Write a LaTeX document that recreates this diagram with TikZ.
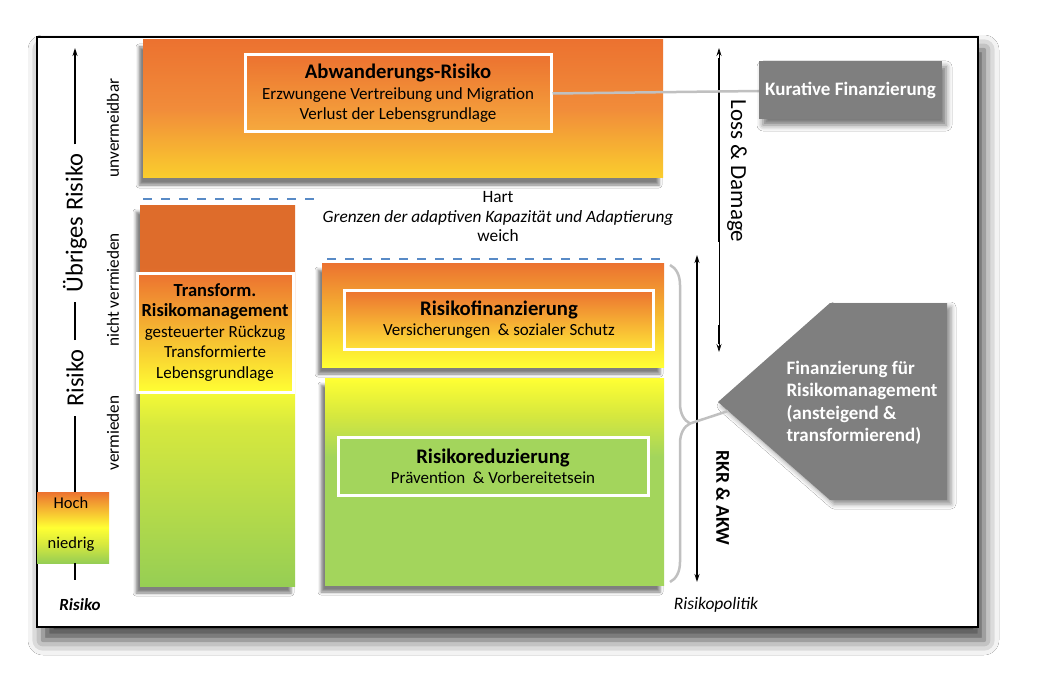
\documentclass[tikz,border=0pt]{standalone}
\usepackage{fontspec}
\setmainfont{Carlito}
\usetikzlibrary{positioning,shadows,shadows.blur,decorations.pathreplacing,arrows.meta}

\definecolor{orgtop}{RGB}{236,114,48}
\definecolor{orgmid}{RGB}{241,140,58}
\definecolor{orgdark}{RGB}{222,108,43}
\definecolor{orglight}{RGB}{246,170,62}
\definecolor{gold}{RGB}{250,206,45}
\definecolor{yel}{RGB}{255,255,51}
\definecolor{yelsoft}{RGB}{254,225,55}
\definecolor{yelgrn}{RGB}{214,232,62}
\definecolor{grn}{RGB}{163,213,92}
\definecolor{grnbot}{RGB}{150,206,84}
\definecolor{boxgrey}{RGB}{127,127,127}
\definecolor{linegrey}{RGB}{192,192,192}
\definecolor{dashblue}{RGB}{88,138,198}

\pgfdeclareverticalshading{transshade}{100bp}{color(0bp)=(grnbot);color(25bp)=(grnbot);color(46bp)=(yelgrn);color(52bp)=(yel);color(63bp)=(orgtop);color(67bp)=(orgdark);color(75bp)=(orgdark);color(100bp)=(orgdark)}
\pgfdeclareverticalshading{redshade}{100bp}{color(0bp)=(grn);color(25bp)=(grn);color(56bp)=(grn);color(66bp)=(yelgrn);color(75bp)=(yel);color(100bp)=(yel)}
\pgfdeclareverticalshading{legendshade}{100bp}{color(0bp)=(grnbot);color(25bp)=(grnbot);color(38bp)=(yelgrn);color(50bp)=(yel);color(75bp)=(orgtop);color(100bp)=(orgtop)}

\newcommand{\boxtitle}[1]{{\fontsize{20.7}{22}\selectfont\bfseries #1}}
\newcommand{\smalltitle}[1]{{\fontsize{18.5}{21}\selectfont\bfseries #1}}

\tikzset{
    block/.style={blur shadow={shadow xshift=-4pt, shadow yshift=-7pt, shadow blur radius=3pt, shadow opacity=50}},
    inbox/.style={draw=white, line width=3pt, align=center, inner sep=0pt, font=\fontsize{17}{20.5}\selectfont},
    vbig/.style={font=\fontsize{24.5}{27}\selectfont, inner xsep=9pt},
    vmid/.style={font=\fontsize{17.2}{20}\selectfont},
    axis/.style={line width=1.8pt},
    dashline/.style={dashblue, line width=2.5pt, dash pattern=on 9pt off 9pt},
    greyline/.style={linegrey, line width=2.5pt}
}

\begin{document}
\begin{tikzpicture}[x=1pt, y=-1pt, >={Stealth[length=8pt,width=5pt]}]
    % Canvas and outer frame
    \useasboundingbox (0,0) rectangle (1046,695);
    \fill[white] (0,0) rectangle (1046,695);
    \draw[line width=1.3pt, fill=white, blur shadow={shadow xshift=6pt, shadow yshift=-13pt, shadow blur radius=15pt, shadow opacity=75}] (37,37) rectangle (978,627);

    % Coloured risk blocks
    \path[block, top color=orgtop, bottom color=gold, middle color=orgmid] (143,40) rectangle (663,178);
    \path[block, shading=transshade] (140,205) rectangle (295,586);
    \path[block, top color=orgtop, bottom color=yel] (322,263) rectangle (664,367);
    \path[block, shading=redshade] (325,378) rectangle (664,585);

    % Text boxes with white borders
    \node[inbox, top color=orgtop, bottom color=orglight, minimum width=306pt, minimum height=77pt] (abw) at (398,93.5)
        {\boxtitle{Abwanderungs-Risiko}\\Erzwungene Vertreibung und Migration\\Verlust der Lebensgrundlage};
    \node[inbox, top color=orgtop, bottom color=yel, minimum width=156pt, minimum height=119pt] (trans) at (215,332.5)
        {\smalltitle{Transform.}\\\smalltitle{Risikomanagement}\\gesteuerter Rückzug\\Transformierte\\Lebensgrundlage};
    \node[inbox, top color=orgtop, bottom color=yelsoft, minimum width=309pt, minimum height=59pt] (fin) at (499,319.5)
        {\boxtitle{Risikofinanzierung}\\Versicherungen~ \& sozialer Schutz};
    \node[inbox, fill=grn, minimum width=310pt, minimum height=58pt] (red) at (493,466.5)
        {\boxtitle{Risikoreduzierung}\\Prävention~ \& Vorbereitetsein};

    % Limits of adaptation
    \draw[dashline] (143,199) -- (315,199);
    \draw[dashline] (327,259) -- (665,259);
    \node[align=center, font=\fontsize{17.3}{19.5}\selectfont] (limits) at (498,217)
        {Hart\\\textit{Grenzen der adaptiven Kapazität und Adaptierung}\\weich};

    % Left risk axis with legend
    \node[vbig, rotate=90] (uebrig) at (75,223) {Übriges Risiko};
    \node[vbig, rotate=90] (risk) at (75,378) {Risiko};
    \path[shading=legendshade] (37,492) rectangle (109,563);
    \node[font=\fontsize{16.5}{18}\selectfont] (hoch) at (71,503) {Hoch};
    \node[font=\fontsize{16.5}{18}\selectfont] (niedrig) at (71,544) {niedrig};
    \coordinate (legtop) at (75,492);
    \coordinate (legbot) at (75,563);
    \coordinate (axtop) at (75,48);
    \coordinate (axbot) at (75,580);
    \draw[axis, ->] (uebrig.east) -- (axtop);
    \draw[axis] (risk.east) -- (uebrig.west);
    \draw[axis] (legtop) -- (risk.west);
    \draw[axis] (legbot) -- (axbot);

    % Column labels
    \node[vmid, rotate=90] (unverm) at (113,128) {unvermeidbar};
    \node[vmid, rotate=90] (nichtverm) at (113,290) {nicht vermieden};
    \node[vmid, rotate=90] (verm) at (113,433) {vermieden};

    % Loss & Damage arrow
    \coordinate (ldtop) at (719,48);
    \coordinate (ldbot) at (719,352);
    \draw[line width=0.8pt, <->] (ldtop) -- (ldbot);
    \draw[line width=1.8pt] (719,58) -- (719,242);
    \draw[line width=1.8pt] (719,325) -- (719,344);
    \node[vbig, rotate=-90, font=\fontsize{23}{26}\selectfont] (loss) at (737,171) {Loss \& Damage};

    % RKR & AKW arrow
    \coordinate (rkrtop) at (697,255);
    \coordinate (rkrbot) at (697,582);
    \draw[line width=1.5pt, <->] (rkrtop) -- (rkrbot);
    \node[rotate=-90, font=\fontsize{19.5}{22}\selectfont\bfseries] (rkr) at (723,498) {RKR \& AKW};

    % Brace and financing for risk management
    \draw[greyline, decorate, decoration={brace, amplitude=20pt}] (670,265) -- (670,582);
    \coordinate (bracetip) at (690,423.5);
    \fill[boxgrey, blur shadow={shadow xshift=4pt, shadow yshift=-4pt, shadow blur radius=5pt, shadow opacity=45}]
        (830,303) -- (947,303) -- (947,500) -- (830,500) -- (718,402) -- cycle;
    \coordinate (pentin) at (728,411);
    \draw[greyline] (bracetip) -- (pentin);
    \node[anchor=west, align=left, text=white, font=\fontsize{19}{22.5}\selectfont\bfseries] (finrm) at (783,403)
        {Finanzierung für\\Risikomanagement\\(ansteigend \&\\transformierend)};

    % Curative financing
    \draw[greyline] (abw.east) -- (759,91);
    \node[fill=boxgrey, text=white, minimum width=183pt, minimum height=58pt, font=\fontsize{19}{22}\selectfont\bfseries,
        blur shadow={shadow xshift=4pt, shadow yshift=-6pt, shadow blur radius=6pt, shadow opacity=55}] (kur) at (850.5,90) {Kurative Finanzierung};

    % Axis captions
    \node[font=\fontsize{17}{19}\selectfont\bfseries\itshape] (riskcap) at (80,605) {Risiko};
    \node[font=\fontsize{17.5}{19}\selectfont\itshape] (politik) at (716,605) {Risikopolitik};
\end{tikzpicture}
\end{document}
